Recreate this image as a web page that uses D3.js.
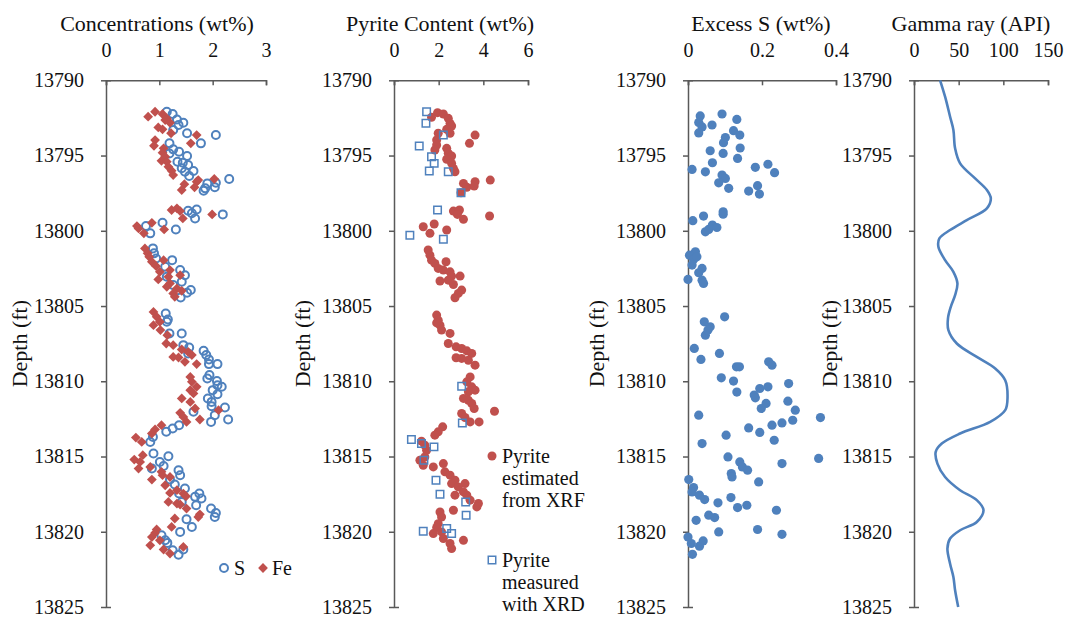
<!DOCTYPE html>
<html>
<head>
<meta charset="utf-8">
<script src="https://cdn.jsdelivr.net/npm/d3@7"></script>
<style>
  body { margin: 0; background: #fff; }
  svg { display: block; background: #fff; font-family: 'Palatino Linotype', 'Book Antiqua', Palatino, 'Liberation Serif', serif; }
  .axis path, .axis line { stroke: #595959; stroke-width: 1.5; }
  .axis text { font-size: 20px; fill: #111; font-family: 'Palatino Linotype', 'Book Antiqua', Palatino, 'Liberation Serif', serif; }
  .title { font-size: 22px; fill: #111; }
  .legend { font-size: 20px; fill: #111; }
</style>
</head>
<body>
<svg id="chart" width="1065" height="618"></svg>
<script>
// DATA  [depth (ft), value]
const depthTicks = [13790, 13795, 13800, 13805, 13810, 13815, 13820, 13825];
const concTicks = [0, 1, 2, 3];
const pyriteTicks = [0, 2, 4, 6];
const excessTicks = [0, 0.2, 0.4];
const gammaTicks = [0, 50, 100, 150];

const sConc = [
  [13792.09,1.14],[13792.24,1.25],[13792.6,1.33],[13792.82,1.45],[13792.97,1.36],[13793.3,1.26],[13793.52,1.52],[13793.64,2.06],
  [13794.19,1.78],[13794.19,1.19],[13794.59,1.26],[13794.75,1.37],[13794.86,1.19],[13795.03,1.52],[13795.41,1.34],[13795.48,1.44],
  [13795.63,1.54],[13795.85,1.42],[13796.08,1.48],[13796.03,1.64],[13796.36,1.56],[13796.85,1.90],[13797.11,2.04],[13796.56,2.31],
  [13797.34,1.83],[13797.18,1.86],[13796.81,2.06],[13798.67,1.54],[13798.58,1.70],[13798.84,1.61],[13799.18,1.67],[13798.91,2.19],
  [13799.47,1.06],[13799.91,1.31],[13799.69,0.75],[13800.17,0.83],[13801.17,0.88],[13801.5,0.90],[13801.84,0.94],[13801.95,1.24],
  [13802.39,1.11],[13802.61,1.39],[13802.95,1.48],[13803.06,1.14],[13803.39,1.42],[13803.61,1.26],[13803.94,1.59],[13804.12,1.52],
  [13804.43,1.40],[13805.5,1.12],[13805.9,1.16],[13806.05,1.14],[13806.82,1.42],[13806.82,1.19],[13807.6,1.45],[13807.75,1.56],
  [13808.15,1.54],[13807.98,1.83],[13808.26,1.88],[13808.55,1.93],[13808.86,1.93],[13808.86,2.09],[13809.59,1.94],[13809.81,1.90],
  [13809.99,2.08],[13810.26,2.09],[13810.37,2.17],[13810.59,2.00],[13810.86,2.09],[13811.14,1.91],[13811.37,1.98],[13811.66,1.98],
  [13811.74,2.23],[13812.25,2.04],[13812.7,1.97],[13812.54,2.29],[13812.03,1.64],[13812.92,1.37],[13813.14,1.25],[13813.36,1.13],
  [13813.7,0.88],[13814.03,0.83],[13814.8,0.89],[13814.98,1.17],[13815.36,1.01],[13815.63,1.08],[13815.8,0.86],[13815.91,1.36],
  [13816.24,1.39],[13816.53,1.20],[13816.86,1.29],[13817.13,1.48],[13817.46,1.37],[13818.02,1.42],[13817.68,1.67],[13817.46,1.75],
  [13817.79,1.79],[13818.24,1.69],[13818.46,1.97],[13818.75,2.06],[13819.02,2.04],[13819.17,1.51],[13819.68,1.61],[13820.01,1.39],
  [13820.23,1.04],[13820.57,1.11],[13820.74,1.15],[13821.23,1.25],[13821.52,1.36],[13821.18,1.45]
];

const feConc = [
  [13792.42,0.79],[13792.09,0.92],[13792.24,1.06],[13792.53,1.14],[13792.82,1.20],[13792.64,1.11],[13793.13,0.98],[13793.26,1.06],
  [13793.52,1.22],[13793.64,1.70],[13794.19,1.59],[13793.97,0.92],[13794.35,0.90],[13794.52,1.08],[13794.81,1.06],[13795.08,1.11],
  [13795.35,1.04],[13795.41,1.14],[13795.75,1.17],[13796.01,1.23],[13796.3,1.26],[13796.74,1.70],[13796.63,1.73],[13797.11,1.66],
  [13796.9,1.47],[13797.29,1.42],[13796.56,2.03],[13798.62,1.23],[13798.51,1.33],[13798.69,1.39],[13799.18,1.44],[13798.91,1.99],
  [13799.69,0.58],[13799.84,0.61],[13799.47,0.86],[13800.17,0.71],[13799.91,1.09],[13801.17,0.73],[13801.5,0.78],[13801.73,0.81],
  [13802.06,0.86],[13802.35,0.94],[13801.95,1.08],[13802.73,1.01],[13802.61,1.20],[13802.95,1.39],[13803.23,0.98],[13803.06,1.17],
  [13803.5,1.20],[13803.72,1.14],[13803.83,1.33],[13803.99,1.42],[13804.16,1.26],[13804.39,1.29],[13805.39,0.89],[13805.72,0.95],
  [13806.05,1.01],[13806.27,0.89],[13806.6,1.02],[13806.94,1.15],[13807.49,1.13],[13807.6,1.26],[13807.89,1.42],[13808.05,1.54],
  [13808.26,1.61],[13808.38,1.26],[13808.42,1.36],[13808.71,1.48],[13808.86,1.70],[13809.71,1.58],[13810.04,1.61],[13810.37,1.70],
  [13810.59,1.58],[13810.81,1.64],[13811.14,1.42],[13811.37,1.58],[13811.81,1.67],[13811.92,2.11],[13812.1,1.39],[13812.37,1.45],
  [13812.7,1.51],[13812.54,1.76],[13812.92,1.04],[13813.2,0.92],[13813.47,0.86],[13813.74,0.56],[13814.03,0.67],[13814.91,0.69],
  [13815.2,0.53],[13815.36,0.64],[13815.8,0.61],[13815.69,0.83],[13816.53,0.86],[13816.02,1.04],[13816.24,1.06],[13816.36,1.20],
  [13816.91,1.11],[13817.42,1.20],[13818.02,1.17],[13817.24,1.33],[13817.46,1.45],[13817.64,1.50],[13818.13,1.33],[13818.19,1.39],
  [13818.46,1.51],[13818.84,1.76],[13819.02,1.73],[13819.12,1.29],[13819.68,1.23],[13819.85,0.95],[13820.08,0.92],[13820.35,0.86],
  [13820.57,1.01],[13820.9,0.83],[13821.18,1.08],[13821.45,1.20],[13821.01,1.45]
];

const pyriteXrf = [
  [13792.15,1.95],[13792.46,1.68],[13792.24,2.21],[13792.53,2.43],[13792.86,2.51],[13793.04,2.58],[13793.26,2.36],[13793.52,2.51],
  [13793.52,1.98],[13793.64,3.63],[13794.19,3.38],[13793.97,1.91],[13794.3,1.91],[13794.63,1.83],[13794.52,2.36],[13794.85,2.43],
  [13795.03,2.58],[13795.25,2.36],[13795.52,2.58],[13795.85,2.66],[13796.08,2.73],[13796.85,3.11],[13797.11,3.26],[13796.74,3.63],
  [13797.03,3.59],[13796.63,4.31],[13797.47,3.0],[13798.69,2.66],[13798.62,2.93],[13798.91,2.84],[13799.24,3.11],[13799.02,4.28],
  [13799.73,1.31],[13800.17,1.61],[13799.55,1.80],[13799.95,2.36],[13801.28,1.53],[13801.62,1.61],[13801.95,1.68],[13802.17,1.83],
  [13802.06,2.33],[13802.5,1.98],[13802.61,2.21],[13802.73,2.51],[13803.01,2.58],[13803.01,2.96],[13803.28,2.43],[13803.34,2.06],
  [13803.57,2.66],[13803.94,3.03],[13804.16,2.88],[13804.45,2.73],[13805.6,1.91],[13805.94,1.98],[13806.27,2.06],[13806.12,1.91],
  [13806.6,2.13],[13806.82,2.51],[13807.49,2.43],[13807.71,2.78],[13807.82,3.03],[13807.98,3.26],[13808.15,3.48],[13808.44,2.78],
  [13808.48,3.03],[13808.6,3.33],[13808.93,3.63],[13809.71,3.41],[13810.04,3.26],[13810.37,3.48],[13810.59,3.63],[13810.7,3.33],
  [13811.14,3.11],[13811.26,3.33],[13811.48,3.48],[13811.81,3.59],[13811.99,4.50],[13812.14,3.03],[13812.41,3.18],[13812.7,3.81],
  [13812.7,3.41],[13813.03,2.18],[13813.36,1.98],[13813.58,1.83],[13813.98,1.23],[13814.25,1.38],[13814.58,1.46],[13815.25,1.16],
  [13815.03,1.38],[13815.58,1.31],[13815.69,1.76],[13815.47,2.21],[13816.02,2.28],[13816.24,2.51],[13816.58,2.73],[13816.8,2.58],
  [13816.8,3.18],[13817.02,2.88],[13817.35,3.11],[13817.57,3.26],[13817.57,2.73],[13818.12,3.78],[13818.35,3.71],[13817.9,3.41],
  [13818.57,2.66],[13818.69,2.06],[13819.02,2.13],[13819.46,1.98],[13819.72,1.91],[13820.12,1.76],[13820.01,2.13],[13820.45,2.21],
  [13820.78,2.51],[13821.12,2.58],[13820.57,3.11]
];

const pyriteXrd = [
  [13792.09,1.46],[13792.86,1.43],[13793.64,2.21],[13794.37,1.13],[13795.08,1.68],[13795.52,1.80],[13796.03,1.58],[13796.08,2.43],
  [13797.47,3.0],[13798.62,1.95],[13800.29,0.71],[13800.57,2.21],[13810.33,3.03],[13812.77,3.06],[13813.87,0.78],[13814.14,1.23],
  [13814.36,1.79],[13815.25,1.34],[13816.58,1.88],[13817.51,2.06],[13818.02,3.21],[13818.9,3.23],[13819.79,2.36],[13820.12,2.58],
  [13819.97,1.31]
];

const excessS = [
  [13792.37,0.033],[13792.24,0.092],[13792.6,0.132],[13792.8,0.029],[13793.1,0.038],[13792.97,0.065],[13793.5,0.029],[13793.35,0.123],
  [13793.64,0.140],[13793.8,0.101],[13794.15,0.096],[13794.5,0.141],[13794.68,0.060],[13794.86,0.095],[13795.19,0.134],[13795.48,0.066],
  [13795.92,0.011],[13796.08,0.047],[13795.78,0.182],[13795.58,0.216],[13796.14,0.234],[13796.3,0.092],[13796.52,0.101],[13796.81,0.083],
  [13797.18,0.110],[13797.36,0.164],[13797.0,0.188],[13797.56,0.193],[13798.74,0.095],[13798.9,0.095],[13799.02,0.042],[13799.33,0.013],
  [13800.07,0.047],[13799.91,0.056],[13799.62,0.066],[13799.78,0.078],[13801.4,0.020],[13801.62,0.004],[13801.9,0.015],[13801.73,0.024],
  [13802.28,0.011],[13802.5,0.038],[13802.79,0.029],[13803.23,0.0],[13803.28,0.038],[13803.5,0.042],[13805.72,0.099],[13806.05,0.044],
  [13806.38,0.060],[13806.94,0.047],[13806.6,0.054],[13807.82,0.017],[13808.55,0.035],[13808.15,0.085],[13809.04,0.131],[13809.04,0.139],
  [13808.71,0.218],[13808.93,0.227],[13809.77,0.090],[13809.99,0.123],[13810.72,0.132],[13810.48,0.194],[13810.37,0.216],[13810.15,0.272],
  [13810.92,0.179],[13811.1,0.182],[13811.47,0.211],[13811.81,0.198],[13811.32,0.270],[13811.92,0.290],[13812.25,0.029],[13812.41,0.358],
  [13812.59,0.283],[13812.77,0.254],[13812.92,0.227],[13813.1,0.164],[13813.4,0.194],[13813.58,0.103],[13813.92,0.233],[13814.14,0.038],
  [13815.03,0.108],[13815.36,0.140],[13815.69,0.147],[13815.91,0.161],[13816.13,0.117],[13816.36,0.119],[13815.47,0.254],[13815.13,0.353],
  [13816.69,0.191],[13816.53,0.002],[13817.06,0.015],[13817.35,0.011],[13817.57,0.031],[13817.86,0.045],[13818.08,0.081],[13817.73,0.116],
  [13818.39,0.134],[13818.24,0.159],[13818.57,0.239],[13818.9,0.056],[13819.06,0.072],[13819.24,0.022],[13820.01,0.083],[13819.85,0.188],
  [13820.17,0.254],[13820.35,0.0],[13820.78,0.009],[13820.96,0.031],[13820.61,0.041],[13821.5,0.012]
];

const gammaRay = [
  [13790,29.2],[13791.09,34.8],[13792.42,40.4],[13793.3,44.1],[13794.52,46.0],[13795.52,51.6],[13796.52,68.4],[13797.29,81.6],
  [13797.85,86.0],[13798.51,81.6],[13799.29,59.1],[13799.95,40.4],[13800.51,28.4],[13801.06,27.3],[13801.95,34.8],[13802.73,44.1],
  [13803.5,48.6],[13804.28,46.0],[13805.05,41.2],[13805.83,38.0],[13806.6,38.5],[13807.49,47.9],[13808.38,70.3],[13809.15,90.9],
  [13809.93,102.1],[13811.04,104.7],[13811.92,102.1],[13812.7,85.3],[13813.47,51.6],[13814.14,31.1],[13814.69,24.3],[13815.47,26.2],
  [13816.36,34.8],[13817.24,51.6],[13817.9,70.3],[13818.57,77.8],[13819.35,70.3],[13819.9,51.6],[13820.45,40.4],[13821.12,37.4],
  [13822.12,40.4],[13823.0,44.1],[13823.89,46.0],[13825,49.5]
];

// SETUP
const RED = '#C0504D', BLUE = '#4F81BD';
let svg = d3.select('svg');

let y = d3.scaleLinear().domain([13790, 13825]).range([80.3, 607]);

const panels = [
  { x0: 106, x1: 266, domain: [0, 3], ticks: concTicks, title: 'Concentrations (wt%)', titleX: 157, depthX: 20 },
  { x0: 394, x1: 528, domain: [0, 6], ticks: pyriteTicks, title: 'Pyrite Content (wt%)', titleX: 440, depthX: 303 },
  { x0: 688, x1: 836, domain: [0, 0.4], ticks: excessTicks, title: 'Excess S (wt%)', titleX: 761, depthX: 597 },
  { x0: 914, x1: 1048, domain: [0, 150], ticks: gammaTicks, title: 'Gamma ray (API)', titleX: 971, depthX: 830 }
];

// AXES
panels.forEach(p => {
  p.x = d3.scaleLinear().domain(p.domain).range([p.x0, p.x1]);

  svg.append('g')
    .attr('class', 'axis')
    .attr('transform', 'translate(0,' + y(13790) + ')')
    .call(d3.axisTop(p.x).tickValues(p.ticks).tickFormat(d => String(d))
      .tickSizeInner(-5).tickSizeOuter(-5).tickPadding(23));

  svg.append('g')
    .attr('class', 'axis')
    .attr('transform', 'translate(' + p.x0 + ',0)')
    .call(d3.axisLeft(y).tickValues(depthTicks).tickFormat(d3.format('d'))
      .tickSizeInner(5).tickSizeOuter(-5).tickPadding(17));

  svg.append('text')
    .attr('class', 'title')
    .attr('x', p.titleX)
    .attr('y', 31)
    .attr('text-anchor', 'middle')
    .text(p.title);

  svg.append('text')
    .attr('class', 'title')
    .attr('transform', 'translate(' + (p.depthX + 7) + ',' + ((y(13790) + y(13825)) / 2) + ') rotate(-90)')
    .attr('text-anchor', 'middle')
    .text('Depth (ft)');
});

const [p1, p2, p3, p4] = panels;
const diamond = d3.symbol(d3.symbolSquare, 48);
const square = d3.symbol(d3.symbolSquare, 56);

// PANEL 1: S and Fe
svg.append('g').selectAll('circle').data(sConc).enter().append('circle')
  .attr('cx', d => p1.x(d[1])).attr('cy', d => y(d[0])).attr('r', 4)
  .attr('fill', 'none').attr('stroke', BLUE).attr('stroke-width', 2);

svg.append('g').selectAll('path').data(feConc).enter().append('path')
  .attr('d', diamond)
  .attr('transform', d => 'translate(' + p1.x(d[1]) + ',' + y(d[0]) + ') rotate(45)')
  .attr('fill', RED);

// PANEL 2: pyrite
svg.append('g').selectAll('circle').data(pyriteXrf).enter().append('circle')
  .attr('cx', d => p2.x(d[1])).attr('cy', d => y(d[0])).attr('r', 4.5)
  .attr('fill', RED);

svg.append('g').selectAll('path').data(pyriteXrd).enter().append('path')
  .attr('d', square)
  .attr('transform', d => 'translate(' + p2.x(d[1]) + ',' + y(d[0]) + ')')
  .attr('fill', 'none').attr('stroke', BLUE).attr('stroke-width', 1.5);

// PANEL 3: excess S
svg.append('g').selectAll('circle').data(excessS).enter().append('circle')
  .attr('cx', d => p3.x(d[1])).attr('cy', d => y(d[0])).attr('r', 4.6)
  .attr('fill', BLUE);

// PANEL 4: gamma ray
svg.append('path')
  .datum(gammaRay)
  .attr('fill', 'none')
  .attr('stroke', BLUE)
  .attr('stroke-width', 2.6)
  .attr('d', d3.line().x(d => p4.x(d[1])).y(d => y(d[0])).curve(d3.curveCatmullRom));

// LEGENDS
svg.append('circle').attr('cx', 224).attr('cy', 568).attr('r', 4)
  .attr('fill', 'none').attr('stroke', BLUE).attr('stroke-width', 2);
svg.append('text').attr('class', 'legend').attr('x', 234).attr('y', 575).text('S');
svg.append('path').attr('d', diamond).attr('transform', 'translate(263,568) rotate(45)').attr('fill', RED);
svg.append('text').attr('class', 'legend').attr('x', 272).attr('y', 575).text('Fe');

svg.append('circle').attr('cx', 492).attr('cy', 456).attr('r', 4.5).attr('fill', RED);
svg.append('path').attr('d', square).attr('transform', 'translate(492,560)')
  .attr('fill', 'none').attr('stroke', BLUE).attr('stroke-width', 1.5);

const legendLines = [
  [['Pyrite', 'estimated', 'from XRF'], 456],
  [['Pyrite', 'measured', 'with XRD'], 560]
];
legendLines.forEach(([lines, cy]) => {
  lines.forEach((t, i) => {
    svg.append('text').attr('class', 'legend')
      .attr('x', 502).attr('y', cy + 7 + i * 22).text(t);
  });
});
</script>
</body>
</html>
